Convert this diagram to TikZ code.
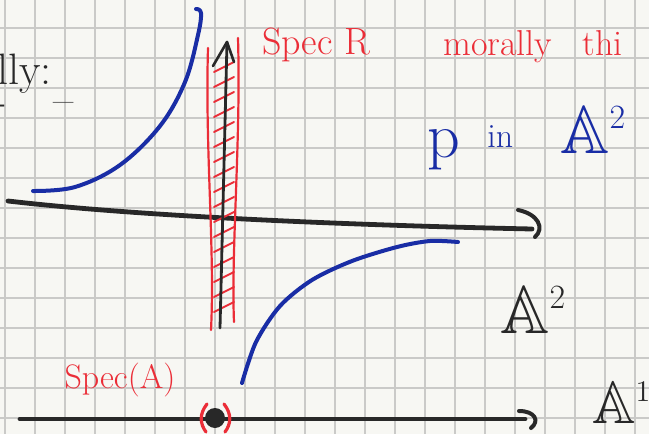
\RequirePackage{fix-cm}
\documentclass[tikz,border=0pt]{standalone}
\usepackage{fontspec}
\usepackage{amssymb}
\definecolor{paper}{RGB}{247,247,243}
\definecolor{gridgray}{RGB}{202,202,200}
\definecolor{penblue}{RGB}{25,45,165}
\definecolor{penred}{RGB}{235,45,55}
\definecolor{penblack}{RGB}{40,40,40}

\begin{document}
\begin{tikzpicture}[x=0.5pt, y=-0.5pt, line cap=round, line join=round,
  blackpen/.style={penblack, line width=2.4pt},
  bluepen/.style={penblue, line width=2pt},
  redpen/.style={penred, line width=1.1pt},
  writing/.style={inner sep=0pt, anchor=base west}]
\clip (0,0) rectangle (649,434);
\fill[paper] (0,0) rectangle (649,434);
% squared paper
\foreach \x in {5,35,...,635}
    \draw[gridgray, line width=1.1pt] (\x,0) -- (\x,434);
\foreach \y in {-2,28,...,418}
    \draw[gridgray, line width=1.1pt] (0,\y) -- (649,\y);
% the plane
\coordinate (xstart) at (8,201);
\coordinate (xend) at (532,229);
\draw[blackpen] (xstart) .. controls (120,214) and (300,224) .. (xend);
\draw[blackpen, line width=2pt] (518,210) .. controls (538,214) and (545,228) .. (535,237);
% the vertical axis, Spec R hatched round it
\coordinate (ybottom) at (220,328);
\coordinate (ytop) at (227,42);
\draw[redpen] (208,48) .. controls (205,150) and (215,250) .. (211,330);
\draw[redpen] (238,38) .. controls (241,140) and (231,250) .. (234,322);
\foreach \y in {66,81,...,316}
    \draw[redpen, line width=0.9pt] (214,\y+6) -- (234,\y-4);
\draw[penblack, line width=1.4pt] (ybottom) -- (ytop);
\draw[penblack, line width=1.3pt] (213,66) -- (ytop) -- (234,62);
% xy = 1
\draw[bluepen] plot[smooth, tension=0.6] coordinates {(33,191) (75,187) (120,165) (160,126) (185,82) (198,35) (201,13) (196,9)};
\draw[bluepen] plot[smooth] coordinates {(242,383) (256,342) (280,306) (312,280) (352,261) (397,247) (430,241) (458,242)};
% the line below
\coordinate (lstart) at (20,419);
\coordinate (lend) at (525,419);
\draw[blackpen] (lstart) -- (lend);
\draw[blackpen, line width=2pt] (519,411) .. controls (535,411) and (540,421) .. (531,428);
\node[circle, fill=penblack, inner sep=0pt, minimum size=10pt] (pt) at (215,418) {};
\draw[redpen, line width=1.6pt] (207,404) .. controls (199,414) and (200,424) .. (206,432);
\draw[redpen, line width=1.6pt] (224,404) .. controls (232,414) and (231,424) .. (225,432);
% writing
\node[writing, penblack, font=\fontsize{22}{24}\selectfont] (ally) at (-3,84) {lly:};
\node[penblack, font=\fontsize{22}{24}\selectfont] (dash) at (64,108) {--};
\node[penblack, font=\fontsize{22}{24}\selectfont] (leftdash) at (0,110) {-};
\node[penred, font=\fontsize{19}{21}\selectfont] (specR) at (316,45) {Spec R};
\node[writing, penred, font=\fontsize{18}{20}\selectfont] (morally) at (443,55) {morally\hspace{15pt}thi};
\node[writing, penblue, font=\fontsize{32}{34}\selectfont] (p) at (427,157) {p};
\node[writing, penblue, font=\fontsize{17}{19}\selectfont] (in) at (487,147) {in};
\node[writing, penblue, font=\fontsize{34}{36}\selectfont] (affplane) at (560,153) {$\mathbb{A}^{\scriptscriptstyle 2}$};
\node[writing, penblack, font=\fontsize{34}{36}\selectfont] (plane) at (500,333) {$\mathbb{A}^{\scriptscriptstyle 2}$};
\node[writing, penblack, font=\fontsize{30}{32}\selectfont] (line) at (592,423) {$\mathbb{A}^{\scriptscriptstyle 1}$};
\node[penred, font=\fontsize{17}{19}\selectfont] (specA) at (120,380) {Spec(A)};
\end{tikzpicture}
\end{document}
